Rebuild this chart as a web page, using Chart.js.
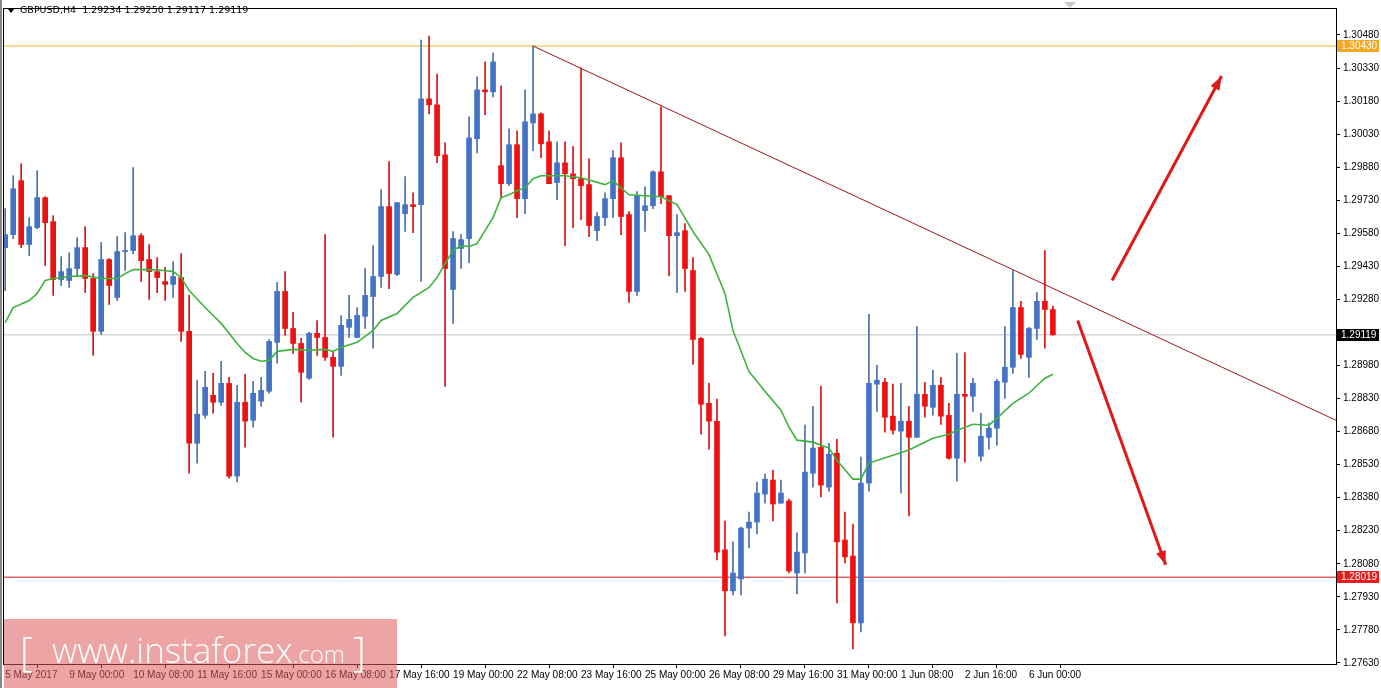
<!DOCTYPE html>
<html><head><meta charset="utf-8">
<script src="https://cdn.jsdelivr.net/npm/chart.js@4/dist/chart.umd.min.js"></script>
<style>html,body{margin:0;padding:0;background:#fff;overflow:hidden}#wrap{width:1381px;height:688px;position:relative}</style>
</head><body><div id="wrap"><canvas id="c" width="1381" height="688"></canvas></div>
<script>
const opens=[1.29515,1.29574,1.29819,1.29529,1.29606,1.29742,1.29633,1.29370,1.29366,1.29420,
1.29515,1.29375,1.29135,1.29461,1.29289,1.29497,1.29502,1.29569,1.29461,1.29406,
1.29361,1.29348,1.29379,1.29135,1.28627,1.28754,1.28845,1.28813,1.28899,1.28478,
1.28813,1.28731,1.28818,1.28863,1.29085,1.29316,1.29148,1.29080,1.28922,1.29126,
1.29107,1.29017,1.28976,1.29153,1.29107,1.29203,1.29293,1.29384,1.29701,1.29393,
1.29669,1.29710,1.29710,1.30190,1.30163,1.29936,1.29325,1.29511,1.29556,1.30009,
1.30231,1.30222,1.29887,1.29805,1.29982,1.29737,1.30081,1.30122,1.29995,1.29810,
1.29900,1.29850,1.29828,1.29801,1.29592,1.29651,1.29737,1.29923,1.29665,1.29316,
1.29683,1.29705,1.29859,1.29751,1.29569,1.29592,1.29411,1.29103,1.28808,1.28727,
1.28143,1.27957,1.28011,1.28242,1.28269,1.28396,1.28460,1.28355,1.28365,1.28038,
1.28129,1.28491,1.28609,1.28428,1.28582,1.28188,1.28115,1.27812,1.28446,1.28895,
1.28904,1.28750,1.28682,1.28727,1.28654,1.28849,1.28790,1.28890,1.28754,1.28559,
1.28849,1.28840,1.28568,1.28654,1.28695,1.28904,1.28972,1.29243,1.29017,1.29148,
1.29271,1.29234];
const highs=[1.29692,1.29841,1.29896,1.29651,1.29864,1.29746,1.29660,1.29474,1.29492,1.29560,
1.29610,1.29397,1.29538,1.29465,1.29565,1.29583,1.29878,1.29579,1.29529,1.29470,
1.29425,1.29452,1.29488,1.29298,1.28913,1.28953,1.28944,1.28999,1.28926,1.28890,
1.28940,1.28908,1.28926,1.29098,1.29357,1.29406,1.29221,1.29103,1.29130,1.29184,
1.29574,1.29039,1.29207,1.29298,1.29243,1.29420,1.29524,1.29778,1.29905,1.29719,
1.29837,1.29764,1.30457,1.30475,1.30303,1.29991,1.29588,1.29574,1.30109,1.30290,
1.30358,1.30398,1.30249,1.30054,1.30045,1.30231,1.30430,1.30127,1.30045,1.29995,
1.29995,1.29973,1.30331,1.29918,1.29674,1.29764,1.29955,1.29991,1.29678,1.29769,
1.29791,1.29864,1.30154,1.29751,1.29665,1.29624,1.29470,1.29107,1.28899,1.28827,
1.28274,1.28179,1.28247,1.28315,1.28451,1.28487,1.28505,1.28460,1.28374,1.28220,
1.28709,1.28795,1.28885,1.28627,1.28645,1.28315,1.28260,1.28564,1.29212,1.28981,
1.28922,1.28895,1.28899,1.28795,1.29157,1.28904,1.28958,1.28926,1.28808,1.29035,
1.29039,1.28922,1.28763,1.28718,1.28917,1.29157,1.29411,1.29271,1.29153,1.29311,
1.29502,1.29250];
const lows=[1.29320,1.29556,1.29515,1.29479,1.29601,1.29434,1.29298,1.29343,1.29334,1.29388,
1.29311,1.29026,1.29121,1.29257,1.29275,1.29411,1.29488,1.29361,1.29280,1.29311,
1.29275,1.29289,1.29089,1.28491,1.28537,1.28741,1.28763,1.28799,1.28469,1.28451,
1.28609,1.28700,1.28795,1.28854,1.28990,1.29116,1.29035,1.28813,1.28917,1.29026,
1.29003,1.28654,1.28935,1.29107,1.29107,1.29148,1.29058,1.29334,1.29329,1.29388,
1.29588,1.29583,1.29361,1.30122,1.29900,1.28885,1.29171,1.29420,1.29447,1.29945,
1.30118,1.30199,1.29737,1.29796,1.29651,1.29669,1.29955,1.29923,1.29805,1.29733,
1.29524,1.29606,1.29642,1.29565,1.29547,1.29615,1.29651,1.29574,1.29266,1.29298,
1.29588,1.29692,1.29714,1.29388,1.29311,1.29316,1.28985,1.28668,1.28600,1.28097,
1.27753,1.27939,1.27939,1.28152,1.28215,1.28355,1.28274,1.28355,1.28038,1.27943,
1.28038,1.28428,1.28383,1.28410,1.27902,1.28084,1.27694,1.27771,1.28410,1.28772,
1.28677,1.28668,1.28401,1.28297,1.28654,1.28745,1.28754,1.28713,1.28555,1.28455,
1.28541,1.28772,1.28546,1.28600,1.28618,1.28831,1.28944,1.29012,1.28926,1.29098,
1.29058,1.29117];
const closes=[1.29574,1.29782,1.29529,1.29610,1.29742,1.29628,1.29370,1.29406,1.29420,1.29515,
1.29375,1.29135,1.29461,1.29343,1.29497,1.29502,1.29569,1.29456,1.29406,1.29379,
1.29348,1.29384,1.29135,1.28627,1.28759,1.28881,1.28813,1.28899,1.28478,1.28813,
1.28727,1.28854,1.28867,1.29089,1.29316,1.29148,1.29080,1.28949,1.29126,1.29107,
1.29017,1.28976,1.29162,1.29189,1.29207,1.29298,1.29384,1.29701,1.29397,1.29719,
1.29710,1.29701,1.30190,1.30163,1.29932,1.29420,1.29556,1.29551,1.30013,1.30231,
1.30222,1.30358,1.29805,1.29982,1.29737,1.30086,1.30122,1.29986,1.29805,1.29900,
1.29850,1.29828,1.29796,1.29615,1.29656,1.29737,1.29923,1.29656,1.29316,1.29751,
1.29705,1.29859,1.29746,1.29569,1.29583,1.29420,1.29098,1.28804,1.28727,1.28133,
1.27957,1.28038,1.28242,1.28269,1.28401,1.28464,1.28351,1.28401,1.28047,1.28133,
1.28496,1.28605,1.28437,1.28577,1.28179,1.28111,1.27812,1.28446,1.28899,1.28913,
1.28745,1.28686,1.28727,1.28654,1.28849,1.28795,1.28890,1.28750,1.28559,1.28849,
1.28840,1.28899,1.28659,1.28695,1.28908,1.28972,1.29243,1.29030,1.29148,1.29271,
1.29234,1.29119];
const maIdx=[0,1,3,4,5,6,8,10,12,14,15,16,18,20,21,22,23,25,27,28,29,30,31,32,33,34,36,38,40,41,42,44,46,47,49,51,53,54,55,56,57,58,59,60,61,62,63,64,65,66,67,70,72,75,76,78,82,84,86,88,90,91,93,95,97,98,99,101,103,104,106,107,108,111,113,116,118,119,121,123,124,126,128,130,131];
const maVal=[1.29175,1.29243,1.29275,1.29307,1.29366,1.29375,1.29384,1.29388,1.29375,1.29375,1.29397,1.29415,1.29415,1.29411,1.29406,1.29379,1.29320,1.29243,1.29171,1.29126,1.29080,1.29039,1.29012,1.28999,1.29003,1.29044,1.29053,1.29049,1.29053,1.29044,1.29062,1.29085,1.29139,1.29184,1.29216,1.29289,1.29334,1.29379,1.29443,1.29502,1.29524,1.29520,1.29533,1.29592,1.29651,1.29742,1.29755,1.29773,1.29787,1.29828,1.29841,1.29841,1.29832,1.29801,1.29819,1.29755,1.29746,1.29710,1.29588,1.29483,1.29307,1.29139,1.28953,1.28863,1.28777,1.28700,1.28641,1.28632,1.28605,1.28550,1.28464,1.28464,1.28537,1.28573,1.28596,1.28650,1.28668,1.28686,1.28713,1.28709,1.28740,1.28808,1.28854,1.28922,1.28940];
const yTicks=[1.27630,1.27780,1.27930,1.28080,1.28230,1.28380,1.28530,1.28680,1.28830,1.28980,1.29119,1.29280,1.29430,1.29580,1.29730,1.29880,1.30030,1.30180,1.30330,1.30480];
const xTickIdx=[0,8,16,24,32,40,48,56,64,72,80,88,96,104,112,120,128];
const xLabels=['5 May 2017','9 May 00:00','10 May 08:00','11 May 16:00','15 May 00:00','16 May 08:00','17 May 16:00','19 May 00:00','22 May 08:00','23 May 16:00','25 May 00:00','26 May 08:00','29 May 16:00','31 May 00:00','1 Jun 08:00','2 Jun 16:00','6 Jun 00:00'];
const levelResist=1.30430, levelSupport=1.28019, levelLast=1.29119;
const trendPts=[[66,1.30430],[166.4,1.28731]];
const arrowUp=[[138.4,1.29366],[152.1,1.30294]];
const arrowDown=[[134.1,1.29184],[145.1,1.28075]];

const BLUE='#4472c4', RED='#ee1111';
const ids=opens.map((_,i)=>i);
const bull=ids.filter(i=>closes[i]>=opens[i]), bear=ids.filter(i=>closes[i]<opens[i]);
const body=(arr)=>arr.map(i=>({x:i,y:[opens[i],closes[i]]}));
const wick=(arr)=>arr.map(i=>({x:i,y:[lows[i],highs[i]]}));
const hline=(v)=>[{x:-1,y:v},{x:170,y:v}];
const lineDs=(data,color,w,order)=>({type:'line',data,borderColor:color,borderWidth:w,pointRadius:0,fill:false,tension:0,spanGaps:true,order});

const yt=yTicks.filter(v=>v!==levelLast);

const overlay={id:'overlay',
afterDatasetsDraw(chart){
 const ctx=chart.ctx,xs=chart.scales.x,ys=chart.scales.y;
 [arrowUp,arrowDown].forEach(a=>{
  const x0=xs.getPixelForValue(a[0][0]),y0=ys.getPixelForValue(a[0][1]);
  const x1=xs.getPixelForValue(a[1][0]),y1=ys.getPixelForValue(a[1][1]);
  const ang=Math.atan2(y1-y0,x1-x0),L=14,W=5;
  ctx.save();ctx.fillStyle='#e01818';ctx.beginPath();
  ctx.moveTo(x1,y1);
  ctx.lineTo(x1-L*Math.cos(ang)+W*Math.sin(ang),y1-L*Math.sin(ang)-W*Math.cos(ang));
  ctx.lineTo(x1-L*Math.cos(ang)-W*Math.sin(ang),y1-L*Math.sin(ang)+W*Math.cos(ang));
  ctx.closePath();ctx.fill();ctx.restore();
 });
},
afterDraw(chart){
 const ctx=chart.ctx,ys=chart.scales.y,ca=chart.chartArea;
 ctx.save();
 ctx.strokeStyle='#000';ctx.lineWidth=1;ctx.strokeRect(ca.left-0.5,ca.top-0.5,ca.right-ca.left+1,ca.bottom-ca.top+1);
 ctx.fillStyle='#888';ctx.fillRect(0,0,2,688);
 [[levelResist,'#f5a623'],[levelLast,'#000'],[levelSupport,'#e81c1c']].forEach(([v,c])=>{
  const y=Math.round(ys.getPixelForValue(v));
  ctx.fillStyle=c;ctx.fillRect(ca.right+1,y-6,42,12);
  ctx.fillStyle='#fff';ctx.font='10px "Liberation Sans"';ctx.textBaseline='middle';ctx.textAlign='left';
  ctx.fillText(v.toFixed(5),ca.right+5,y);
 });
 ctx.fillStyle='#000';ctx.beginPath();ctx.moveTo(8,9);ctx.lineTo(14,9);ctx.lineTo(11,13);ctx.closePath();ctx.fill();
 ctx.font='9.5px "DejaVu Sans"';ctx.textBaseline='middle';ctx.textAlign='left';
 ctx.fillText('GBPUSD,H4  1.29234 1.29250 1.29117 1.29119',20,11);
 ctx.fillStyle='#c8c8c8';ctx.beginPath();ctx.moveTo(1064,2);ctx.lineTo(1076,2);ctx.lineTo(1070,8);ctx.closePath();ctx.fill();
 ctx.fillStyle='rgba(220,90,90,0.55)';ctx.fillRect(4,619,393,69);
 ctx.fillStyle='#fff';ctx.textBaseline='alphabetic';
 ctx.font='300 40px "Open Sans"';ctx.fillText('[',20,666);
 ctx.font='300 35px "Open Sans"';ctx.fillText('www.instaforex',52,663);
 const w=ctx.measureText('www.instaforex').width;
 ctx.font='300 24px "Open Sans"';ctx.fillText('.com',52+w,663);
 const w2=ctx.measureText('.com').width;
 ctx.font='300 40px "Open Sans"';ctx.fillText(']',52+w+w2+8,666);
 ctx.restore();
}};

new Chart(document.getElementById('c'),{
 type:'bar',
 data:{datasets:[
  lineDs(hline(levelLast),'#c0c0c0',1,10),
  lineDs(hline(levelResist),'#f0b030',1,9),
  lineDs(hline(levelSupport),'#d01818',1,9),
  {type:'bar',data:wick(bull),backgroundColor:'#4a6fa8',barThickness:1,grouped:false,order:6},
  {type:'bar',data:wick(bear),backgroundColor:'#dd1010',barThickness:1,grouped:false,order:6},
  {type:'bar',data:body(bull),backgroundColor:BLUE,barThickness:5,grouped:false,minBarLength:1,order:5},
  {type:'bar',data:body(bear),backgroundColor:RED,barThickness:5,grouped:false,minBarLength:1,order:5},
  lineDs(maIdx.map((v,i)=>({x:v,y:maVal[i]})),'#3cb33c',1.6,3),
  lineDs(trendPts.map(p=>({x:p[0],y:p[1]})),'#a31515',1,2),
  lineDs(arrowUp.map(p=>({x:p[0],y:p[1]})),'#e01818',3,1),
  lineDs(arrowDown.map(p=>({x:p[0],y:p[1]})),'#e01818',3,1)
 ]},
 options:{responsive:false,animation:false,devicePixelRatio:1,
  layout:{padding:{left:4,top:1,right:0,bottom:0}},
  plugins:{legend:{display:false},tooltip:{enabled:false}},
  scales:{
   x:{type:'linear',min:-0.15,max:166.4,offset:false,
    afterFit(s){s.height=24;},
    afterBuildTicks(s){s.ticks=xTickIdx.map(v=>({value:v}));},
    ticks:{autoSkip:false,maxRotation:0,align:'start',padding:1,color:'#000',font:{family:'Liberation Sans',size:10},callback:(v,i)=>xLabels[i]},
    grid:{display:true,drawOnChartArea:false,drawTicks:true,tickLength:4,color:'#000'},
    border:{color:'#000'}},
   y:{position:'right',min:1.27625,max:1.30598,
    afterFit(s){s.width=45;},
    afterBuildTicks(s){s.ticks=yt.map(v=>({value:v}));},
    ticks:{color:'#000',padding:3,font:{family:'Liberation Sans',size:10},callback:v=>v.toFixed(5)},
    grid:{display:true,drawOnChartArea:false,drawTicks:true,tickLength:4,color:'#000'},
    border:{color:'#000'}}
  }},
 plugins:[overlay]
});
</script></body></html>
